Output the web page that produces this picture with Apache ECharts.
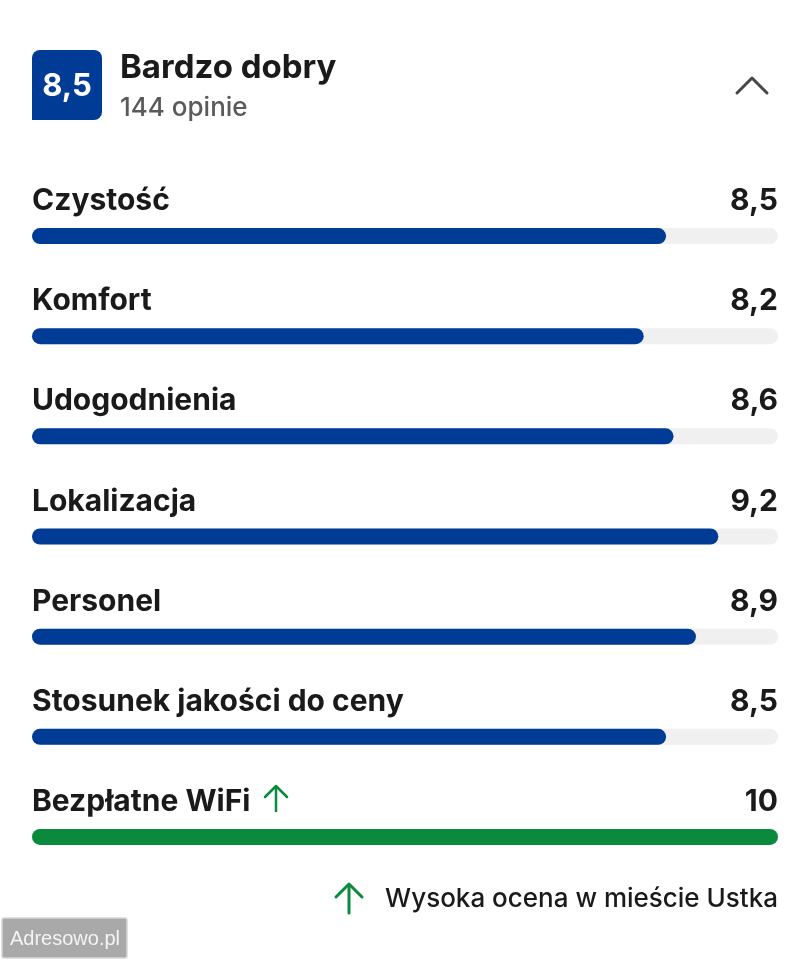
<!DOCTYPE html>
<html>
<head>
<meta charset="utf-8">
<script src="https://cdn.jsdelivr.net/npm/echarts@6/dist/echarts.min.js"></script>
<style>
html,body{margin:0;padding:0;background:#fff;}
#chart{width:811px;height:960px;}
</style>
</head>
<body>
<div id="chart"></div>
<script>
var categories = ['Czystość', 'Komfort', 'Udogodnienia', 'Lokalizacja', 'Personel', 'Stosunek jakości do ceny', 'Bezpłatne WiFi'];
var scores = [8.5, 8.2, 8.6, 9.2, 8.9, 8.5, 10];
var highlighted = [false, false, false, false, false, false, true];
var scaleMax = 10;
var overallScore = '8,5';
var overallLabel = 'Bardzo dobry';
var reviewCount = '144 opinie';
var footerNote = 'Wysoka ocena w mieście Ustka';

var BLUE = '#003b95';
var GREEN = '#0a8a3c';
var TRACK = '#f0f0f0';
var TEXT = '#1a1a1a';
var FONT = 'Inter, "Noto Sans", sans-serif';

function fmt(v) {
  return Number.isInteger(v) ? String(v) : v.toFixed(1).replace('.', ',');
}

var chart = echarts.init(document.getElementById('chart'), null, {renderer: 'canvas'});

var option = {
  animation: false,
  backgroundColor: '#ffffff',
  grid: {left: 32, right: 33, top: 186, height: 701},
  xAxis: {type: 'value', min: 0, max: scaleMax, show: false},
  yAxis: {type: 'category', data: categories, inverse: true, show: false},
  series: [
    {
      name: 'track',
      type: 'bar',
      barWidth: 16,
      barGap: '-100%',
      silent: true,
      z: 1,
      data: categories.map(function () { return scaleMax; }),
      itemStyle: {color: TRACK, borderRadius: 8},
      label: {
        show: true,
        position: ['100%', -27],
        align: 'right',
        verticalAlign: 'middle',
        fontFamily: FONT,
        fontSize: 30,
        fontWeight: 700,
        color: TEXT,
        formatter: function (p) { return fmt(scores[p.dataIndex]); }
      }
    },
    {
      name: 'score',
      type: 'bar',
      barWidth: 16,
      barGap: '-100%',
      z: 2,
      data: scores.map(function (v, i) {
        return {value: v, itemStyle: {color: highlighted[i] ? GREEN : BLUE}};
      }),
      itemStyle: {borderRadius: 8},
      label: {
        show: true,
        position: [0, -27],
        align: 'left',
        verticalAlign: 'middle',
        fontFamily: FONT,
        fontSize: 30,
        fontWeight: 700,
        color: TEXT,
        formatter: function (p) { return p.name; }
      }
    }
  ],
  graphic: [
    {type: 'rect', shape: {x: 32, y: 50, width: 70, height: 70, r: [8, 8, 8, 0]}, style: {fill: BLUE}},
    {type: 'text', x: 67, y: 87, style: {text: overallScore, fill: '#fff', font: '700 31px ' + FONT, align: 'center', verticalAlign: 'middle'}},
    {type: 'text', x: 120, y: 68, style: {text: overallLabel, fill: TEXT, font: '700 33px ' + FONT, align: 'left', verticalAlign: 'middle'}},
    {type: 'text', x: 120, y: 108, style: {text: reviewCount, fill: '#5a5a5a', font: '500 26px ' + FONT, align: 'left', verticalAlign: 'middle'}},
    {type: 'polyline', shape: {points: [[737, 93], [752, 78], [767, 93]]}, style: {stroke: '#474747', lineWidth: 3, fill: null, lineCap: 'round', lineJoin: 'round'}},
    {type: 'polyline', shape: {points: [[265, 797], [276, 786], [287, 797]]}, style: {stroke: GREEN, lineWidth: 2.5, fill: null, lineCap: 'round', lineJoin: 'round'}},
    {type: 'line', shape: {x1: 276, y1: 787, x2: 276, y2: 811}, style: {stroke: GREEN, lineWidth: 2.5, lineCap: 'round'}},
    {type: 'polyline', shape: {points: [[336, 897], [349, 884], [362, 897]]}, style: {stroke: GREEN, lineWidth: 3, fill: null, lineCap: 'round', lineJoin: 'round'}},
    {type: 'line', shape: {x1: 349, y1: 885, x2: 349, y2: 913}, style: {stroke: GREEN, lineWidth: 3, lineCap: 'round'}},
    {type: 'text', x: 778, y: 899, style: {text: footerNote, fill: TEXT, font: '500 26px ' + FONT, align: 'right', verticalAlign: 'middle'}},
    {type: 'rect', shape: {x: 2, y: 918, width: 125, height: 40, r: 2}, style: {fill: '#a9a9a9', stroke: '#d8d8d8', lineWidth: 1.5}},
    {type: 'text', x: 65, y: 939, style: {text: 'Adresowo.pl', fill: '#f4f4f4', font: '400 20px "Liberation Sans", Arial, sans-serif', align: 'center', verticalAlign: 'middle'}}
  ]
};

chart.setOption(option);
</script>
</body>
</html>
